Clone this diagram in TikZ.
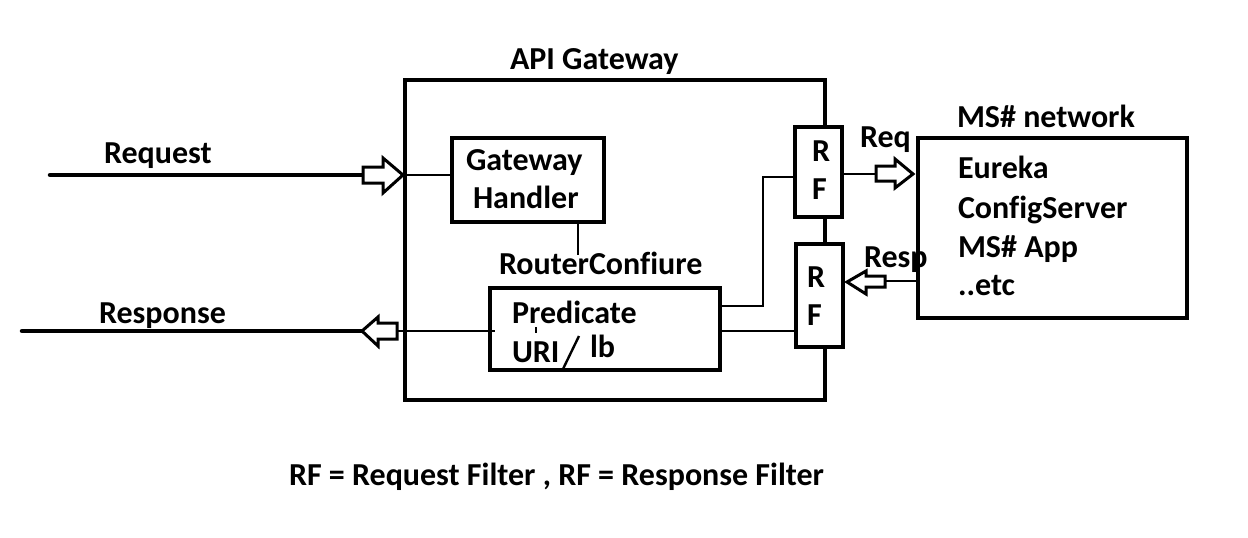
\documentclass[tikz,border=0pt]{standalone}
\usepackage{fontspec}
\setmainfont[Ligatures=NoCommon]{Carlito}
\begin{document}
\begin{tikzpicture}[x=1pt,y=-1pt,
  every node/.style={font=\fontsize{32}{38}\selectfont\bfseries, inner sep=0pt, outer sep=0pt},
  lbl/.style={anchor=base west},
  box/.style={draw, line width=4pt, fill=white, anchor=north west, inner sep=0pt, outer sep=0pt},
  mainline/.style={line width=4.5pt, line cap=round},
  thinline/.style={line width=2.6pt},
  hollow/.style={draw, line width=3pt, fill=white, line join=miter}]
\useasboundingbox (0,0) rectangle (1248,538);

% boxes
\node[box, fill=none, minimum width=420pt, minimum height=320pt] (gw) at (405,80) {};
\node[box, minimum width=152pt, minimum height=84pt] (hnd) at (452,138) {};
\node[box, minimum width=230pt, minimum height=82pt] (pred) at (490,288) {};
\node[box, minimum width=269pt, minimum height=180pt] (ms) at (918,138) {};

% labels
\node[lbl] (tgw) at (510,69) {API Gateway};
\node[lbl] (treq) at (104,163) {Request};
\node[lbl] (tresp) at (99,323) {Response};
\node[lbl] (tg1) at (466,170) {Gateway};
\node[lbl] (tg2) at (473,208) {Handler};
\node[lbl] (trc) at (499,274) {RouterConfiure};
\node[lbl] (tp1) at (512,323) {Predicate};
\node[lbl] (tp2) at (512,362) {URI};
\node[lbl] (tp3) at (590,357) {lb};
\node[lbl] (treqs) at (860,147) {Req};
\node[lbl] (tresps) at (864,267) {Resp};
\node[lbl] (tms) at (957,127) {MS\# network};
\node[lbl] (tm1) at (958,178) {Eureka};
\node[lbl] (tm2) at (958,218) {ConfigServer};
\node[lbl] (tm3) at (958,257) {MS\# App};
\node[lbl] (tm4) at (958,295) {..etc};
\node[lbl] (tfoot) at (289,485) {RF = Request Filter , RF = Response Filter};

% coordinates
\coordinate (reqS) at (50,175);
\coordinate (reqA) at (363,175);
\coordinate (reqB) at (403,175);
\coordinate (respS) at (22,331);
\coordinate (respA) at (362,331);
\coordinate (respB) at (397,331);
\coordinate (rctop) at (578,255);
\coordinate (bend) at (763,306);
\coordinate (rqA) at (876,174);
\coordinate (rsA) at (885,281);

% request connector
\draw[mainline] (reqS) -- (reqA);
\draw[hollow] (363,167) -- (383,167) -- (383,158) -- (reqB) -- (383,193) -- (383,183) -- (363,183) -- cycle;
\draw[thinline] (gw.west |- reqB) -- (hnd.west |- reqB);

% response connector
\draw[mainline] (respS) -- (respA);
\draw[hollow] (respA) -- (378,317) -- (378,323) -- (397,323) -- (397,339) -- (378,339) -- (378,346) -- cycle;
\draw[thinline] (respB) -- ([xshift=5pt]pred.west |- respB);

% handler to router
\draw[thinline] (hnd.south -| rctop) -- (rctop);

% predicate to RFs
\draw[thinline] (pred.east |- bend) -- (bend) |- (795,177);
\draw[thinline] (pred.east |- respB) -- (796,331);

% RF boxes
\node[box, minimum width=47pt, minimum height=90pt] (rf1) at (795,127) {};
\node[box, minimum width=47pt, minimum height=103pt] (rf2) at (796,244) {};
\node[lbl] (r1) at (812,161) {R};
\node[lbl] (f1) at (812,199) {F};
\node[lbl] (r2) at (807,287) {R};
\node[lbl] (f2) at (807,325) {F};

% Req arrow
\draw[thinline] (rf1.east |- rqA) -- (rqA);
\draw[hollow] (876,166) -- (895,166) -- (895,159) -- (913,174) -- (895,188) -- (895,181) -- (876,181) -- cycle;

% Resp arrow
\draw[thinline] (rsA) -- (ms.west |- rsA);
\draw[hollow] (847,282) -- (866,271) -- (866,276) -- (885,276) -- (885,287) -- (866,287) -- (866,294) -- cycle;

% small marks in predicate box
\draw[line width=2.4pt] (563,369) -- (579,336);
\draw[line width=2pt] (536,327) -- (536,333);
\end{tikzpicture}
\end{document}
